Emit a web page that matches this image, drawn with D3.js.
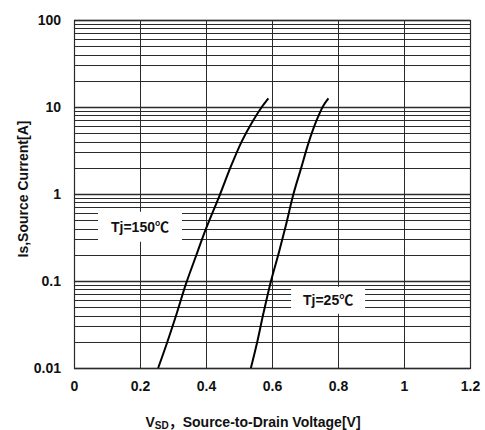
<!DOCTYPE html>
<html>
<head>
<meta charset="utf-8">
<script src="https://cdn.jsdelivr.net/npm/d3@7"></script>
<style>
  html, body { margin: 0; padding: 0; background: #fff; }
  svg { display: block; }
  text { font-family: "Liberation Sans", Arial, "Noto Sans CJK SC", sans-serif; font-weight: bold; fill: #111; }
</style>
</head>
<body>
<svg id="chart" width="485" height="430"></svg>
<script>
// Source-drain diode forward characteristics
const vsd150 = [0.255, 0.281, 0.311, 0.339, 0.370, 0.400, 0.442, 0.473, 0.508, 0.538, 0.569, 0.589];
const is150  = [0.01, 0.019, 0.042, 0.092, 0.195, 0.40, 0.98, 1.97, 4.0, 6.5, 10, 12.6];
const vsd25  = [0.536, 0.554, 0.574, 0.597, 0.619, 0.641, 0.665, 0.688, 0.711, 0.735, 0.755, 0.771];
const is25   = [0.01, 0.019, 0.0425, 0.1, 0.2, 0.42, 1.0, 1.97, 3.9, 7.0, 10.3, 12.6];

const xTicks = [0, 0.2, 0.4, 0.6, 0.8, 1, 1.2];
const yTicks = [0.01, 0.1, 1, 10, 100];
const yTickLabels = ["0.01", "0.1", "1", "10", "100"];

const seriesLabels = ["Tj=150℃", "Tj=25℃"];
const labelAnchors = [[0.2, 0.42], [0.77, 0.06]]; // [V, A] centre of each label

const svg = d3.select("#chart");
const margin = { left: 74, right: 15, top: 20, bottom: 62 };
const W = 485, H = 430;

const x = d3.scaleLinear().domain([0, 1.2]).range([margin.left, W - margin.right]);
const y = d3.scaleLog().domain([0.01, 100]).range([H - margin.bottom, margin.top]);

const grid = svg.append("g");

// horizontal grid: every 1..9 step in each decade
const minor = [];
for (let e = -2; e < 2; e++) {
  for (let m = 1; m <= 9; m++) minor.push(m * Math.pow(10, e));
}
minor.push(100);
grid.selectAll("line.h").data(minor).join("line")
  .attr("class", "h")
  .attr("x1", x(0)).attr("x2", x(1.2))
  .attr("y1", d => Math.round(y(d)) + 0.5).attr("y2", d => Math.round(y(d)) + 0.5)
  .attr("stroke", "#2a2a2a")
  .attr("stroke-width", d => yTicks.includes(+d.toPrecision(3)) ? 1.6 : 1);

// vertical grid at the major voltage ticks
grid.selectAll("line.v").data(xTicks).join("line")
  .attr("class", "v")
  .attr("x1", d => Math.round(x(d)) + 0.5).attr("x2", d => Math.round(x(d)) + 0.5)
  .attr("y1", y(100)).attr("y2", y(0.01))
  .attr("stroke", "#2a2a2a").attr("stroke-width", 1);

// frame
svg.append("rect")
  .attr("x", x(0) + 0.5).attr("y", y(100) + 0.5)
  .attr("width", x(1.2) - x(0)).attr("height", y(0.01) - y(100))
  .attr("fill", "none").attr("stroke", "#2a2a2a").attr("stroke-width", 1.2);

// series labels with white boxes over the grid
const labels = svg.append("g");
const boxSizes = [[84, 30], [74, 27]];
seriesLabels.forEach((t, i) => {
  const cx = x(labelAnchors[i][0]), cy = y(labelAnchors[i][1]);
  labels.append("rect")
    .attr("x", cx - boxSizes[i][0] / 2).attr("y", cy - boxSizes[i][1] / 2)
    .attr("width", boxSizes[i][0]).attr("height", boxSizes[i][1])
    .attr("fill", "#fff");
  labels.append("text")
    .attr("x", cx).attr("y", cy).attr("dy", "0.36em")
    .attr("text-anchor", "middle").attr("font-size", 14)
    .text(t);
});

// curves
const line = d3.line().x(d => x(d[0])).y(d => y(d[1])).curve(d3.curveCatmullRom.alpha(0.5));
const curves = [d3.zip(vsd150, is150), d3.zip(vsd25, is25)];
svg.selectAll("path.curve").data(curves).join("path")
  .attr("class", "curve")
  .attr("d", line)
  .attr("fill", "none").attr("stroke", "#000").attr("stroke-width", 2);

// axes
const xAxis = d3.axisBottom(x).tickValues(xTicks).tickSize(0).tickPadding(13)
  .tickFormat(d3.format("~g"));
const gx = svg.append("g").attr("transform", `translate(0,${y(0.01)})`).call(xAxis);
gx.select(".domain").remove();
gx.selectAll("text").attr("font-size", 14).attr("font-family", null).attr("fill", null);

const yAxis = d3.axisLeft(y).tickValues(yTicks).tickSize(0).tickPadding(13)
  .tickFormat((d, i) => yTickLabels[i]);
const gy = svg.append("g").attr("transform", `translate(${x(0)},0)`).call(yAxis);
gy.select(".domain").remove();
gy.selectAll("text").attr("font-size", 14).attr("font-family", null).attr("fill", null);

// axis titles
const xt = svg.append("text")
  .attr("x", 253).attr("y", 427)
  .attr("text-anchor", "middle").attr("font-size", 14);
xt.append("tspan").text("V");
xt.append("tspan").attr("font-size", 10).attr("dy", 2).text("SD");
xt.append("tspan").attr("dy", -2).text("，Source-to-Drain Voltage[V]");

svg.append("text")
  .attr("transform", `translate(28,189) rotate(-90)`)
  .attr("text-anchor", "middle").attr("font-size", 14)
  .text("Is,Source  Current[A]");
</script>
</body>
</html>
